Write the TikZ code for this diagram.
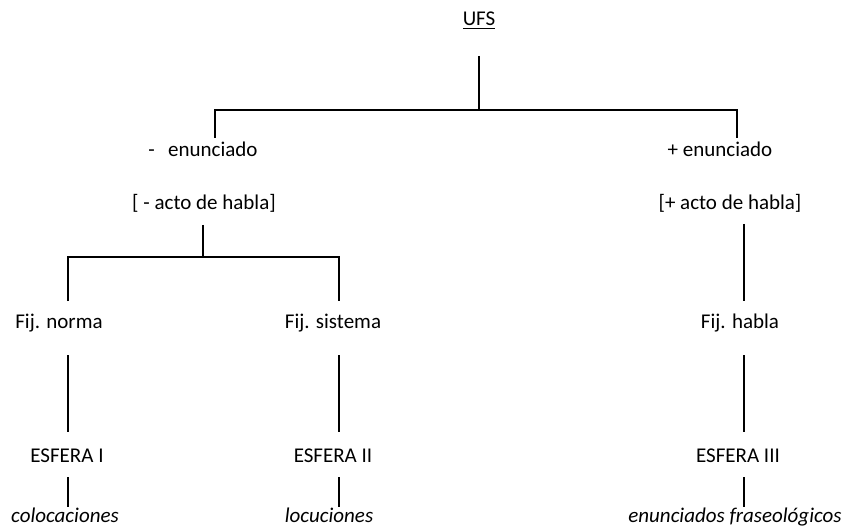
\documentclass[tikz,border=0pt]{standalone}
\usepackage{fontspec}
\setmainfont{Carlito}
\usetikzlibrary{calc}
\tikzset{
	lbl/.style={inner sep=0pt, anchor=base, font=\fontsize{11}{13}\selectfont},
	leaf/.style={lbl, font=\fontsize{11}{13}\selectfont\itshape},
	branch/.style={black, line width=1pt}
}
\begin{document}
\begin{tikzpicture}[x=0.524pt, y=-0.524pt]
		\useasboundingbox (0,0) rectangle (845,529);
		\node [lbl] (ufs) at (479,26) {\underline{UFS}};
		\node [lbl, anchor=base west] (neg) at (148,157) {-\hspace{7pt}enunciado};
		\node [lbl] (pos) at (720,157) {+ enunciado};
		\node [lbl] (actoneg) at (204,209) {[ - acto de habla]};
		\node [lbl] (actopos) at (730,209) {[+ acto de habla]};
		\node [lbl] (norma) at (59,328) {Fij. norma};
		\node [lbl] (sistema) at (333,328) {Fij. sistema};
		\node [lbl] (fhabla) at (740,328) {Fij. habla};
		\node [lbl] (esf1) at (67,462) {ESFERA I};
		\node [lbl] (esf2) at (333,462) {ESFERA II};
		\node [lbl] (esf3) at (738,462) {ESFERA III};
		\node [leaf] (coloc) at (65,522) {colocaciones};
		\node [leaf] (locu) at (329,522) {locuciones};
		\node [leaf] (enun) at (735,522) {enunciados fraseológicos};
		% UFS
		\draw [branch] ($(ufs.base)+(0,30)$) -- ($(ufs.base)+(0,84)$);
		\draw [branch] ($(neg.base west)+(67,-19)$) -- ++(0,-28) -| ($(pos.base)+(17,-19)$);
		% - enunciado
		\draw [branch] ($(actoneg.base)+(-1,16)$) -- ++(0,32);
		\draw [branch] ($(norma.base)+(9,-27)$) -- ++(0,-44) -| ($(sistema.base)+(6,-27)$);
		% + enunciado
		\draw [branch] ($(actopos.base)+(14,15)$) -- ($(fhabla.base)+(4,-27)$);
		% fijacion
		\draw [branch] ($(norma.base)+(9,27)$) -- ($(esf1.base)+(1,-30)$);
		\draw [branch] ($(sistema.base)+(6,27)$) -- ($(esf2.base)+(6,-30)$);
		\draw [branch] ($(fhabla.base)+(4,27)$) -- ($(esf3.base)+(6,-30)$);
		% esferas
		\draw [branch] ($(esf1.base)+(1,15)$) -- ($(coloc.base)+(3,-15)$);
		\draw [branch] ($(esf2.base)+(6,15)$) -- ($(locu.base)+(10,-15)$);
		\draw [branch] ($(esf3.base)+(6,15)$) -- ($(enun.base)+(9,-15)$);
\end{tikzpicture}
\end{document}
